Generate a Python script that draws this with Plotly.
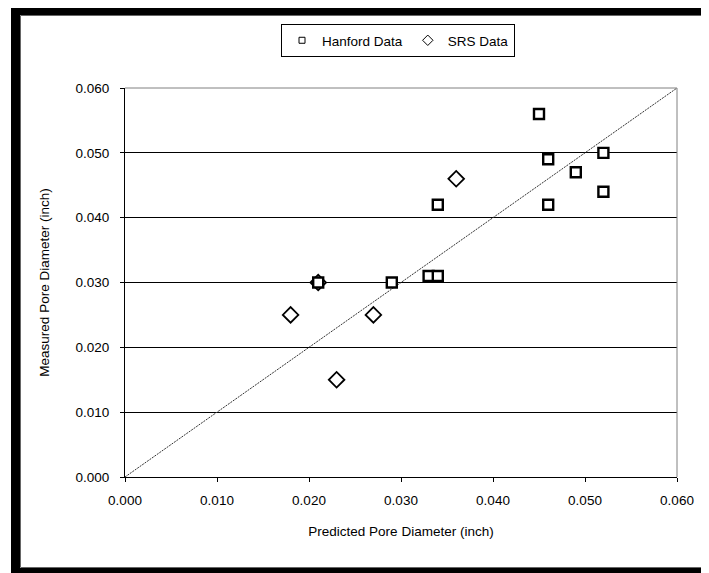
import plotly.graph_objects as go

# Data
hanford_x = [0.045, 0.046, 0.052, 0.049, 0.052, 0.046, 0.034, 0.033, 0.034, 0.029, 0.021]
hanford_y = [0.056, 0.049, 0.050, 0.047, 0.044, 0.042, 0.042, 0.031, 0.031, 0.030, 0.030]
srs_x = [0.036, 0.018, 0.027, 0.023, 0.021]
srs_y = [0.046, 0.025, 0.025, 0.015, 0.030]
line_x = [0.0, 0.06]
line_y = [0.0, 0.06]
tick_vals = [0.0, 0.01, 0.02, 0.03, 0.04, 0.05, 0.06]

W, H = 709, 573
OFF = 8  # page body margin of the html page
# target plot area in screenshot pixels: x 125..677, y 88..477
L = 125 - OFF
T = 88 - OFF
R = W - (677 - OFF)
B = H - (477 - OFF)
PW, PH = W - L - R, H - T - B


def px(xs):
    return (xs - OFF - L) / PW


def py(ys):
    return (H - B - (ys - OFF)) / PH


FONT = "Liberation Sans, Arial, sans-serif"
FS = 13.5

fig = go.Figure()

fig.add_trace(go.Scatter(
    x=line_x, y=line_y, mode="lines", showlegend=False, hoverinfo="skip",
    line=dict(color="#333333", width=1, dash="2px,1px"),
))
fig.add_trace(go.Scatter(
    x=srs_x, y=srs_y, mode="markers", name="SRS Data", showlegend=False,
    marker=dict(symbol="diamond", size=12, color="white",
                line=dict(color="black", width=1.8)),
))
fig.add_trace(go.Scatter(
    x=hanford_x, y=hanford_y, mode="markers", name="Hanford Data", showlegend=False,
    marker=dict(symbol="square", size=10, color="white",
                line=dict(color="black", width=2.4)),
))
# legend entries (small symbols like the reference legend)
fig.add_trace(go.Scatter(
    x=[None], y=[None], mode="markers", name="Hanford Data", legendrank=1,
    marker=dict(symbol="square", size=6, color="white",
                line=dict(color="black", width=1)),
))
fig.add_trace(go.Scatter(
    x=[None], y=[None], mode="markers", name="SRS Data", legendrank=2,
    marker=dict(symbol="diamond", size=8, color="white",
                line=dict(color="black", width=1)),
))

axis_common = dict(
    range=[0, 0.06], tickvals=tick_vals, tickformat=".3f",
    showline=True, linecolor="black", linewidth=1,
    ticks="outside", ticklen=4, tickcolor="black", tickwidth=1,
    zeroline=False, tickfont=dict(family=FONT, size=FS, color="black"),
    fixedrange=True,
)

fig.update_xaxes(**axis_common, showgrid=False, ticklabelstandoff=7,
                 title=dict(text="Predicted Pore Diameter (inch)",
                            font=dict(family=FONT, size=FS, color="black"),
                            standoff=19))
fig.update_yaxes(**axis_common, showgrid=True, gridcolor="black", gridwidth=1,
                 ticklabelstandoff=8,
                 title=dict(text="Measured Pore Diameter (inch)",
                            font=dict(family=FONT, size=FS, color="black"),
                            standoff=22))

shapes = [
    # gray top and right borders of plot area
    dict(type="line", xref="paper", yref="paper", x0=0, x1=1, y0=1, y1=1,
         line=dict(color="#808080", width=1), layer="above"),
    dict(type="line", xref="paper", yref="paper", x0=1, x1=1, y0=0, y1=1,
         line=dict(color="#808080", width=1), layer="above"),
    # outer black frame
    dict(type="rect", xref="paper", yref="paper",
         x0=px(15.5), x1=px(740), y0=py(572.5), y1=py(10.5),
         line=dict(color="black", width=9), fillcolor="rgba(0,0,0,0)"),
    dict(type="rect", xref="paper", yref="paper",
         x0=px(20.5), x1=px(740), y0=py(567.5), y1=py(15.5),
         line=dict(color="#666666", width=1), fillcolor="rgba(0,0,0,0)"),
]

fig.update_layout(
    width=W, height=H,
    margin=dict(l=L, r=R, t=T, b=B),
    paper_bgcolor="white", plot_bgcolor="white",
    font=dict(family=FONT, size=FS, color="black"),
    showlegend=True,
    legend=dict(orientation="h", x=px(398), xanchor="center",
                y=py(24), yanchor="top",
                bordercolor="black", borderwidth=1, bgcolor="white",
                font=dict(family=FONT, size=FS, color="black"),
                itemwidth=30, tracegroupgap=0),
    shapes=shapes,
)

fig.write_html("out.html")
